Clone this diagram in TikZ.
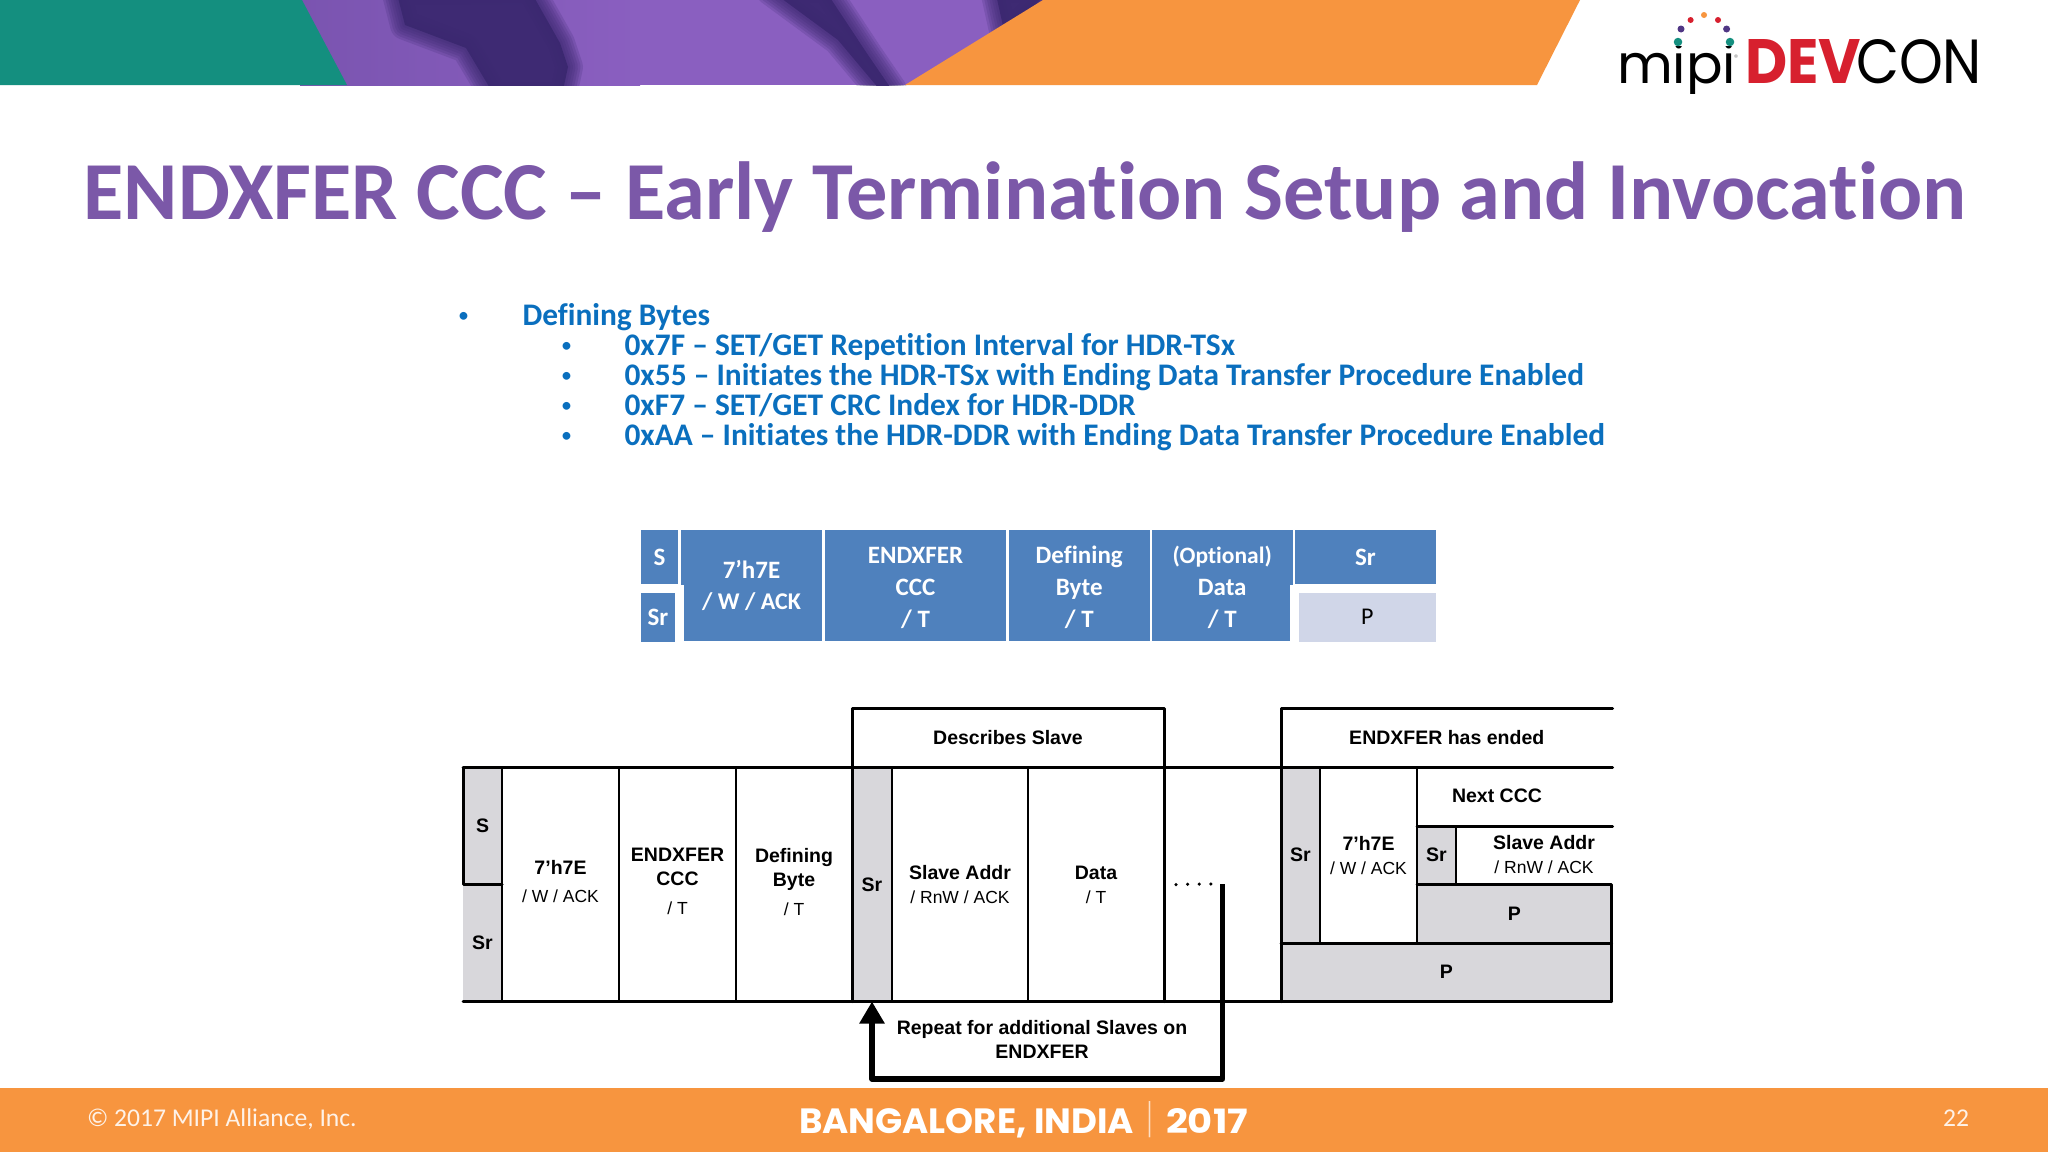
\documentclass[tikz,border=0pt]{standalone}
\usepackage{fontspec}
\usepackage{graphicx}
\usetikzlibrary{arrows.meta}
\setmainfont{Carlito}[Ligatures=NoCommon]
\newfontfamily\arialf{Liberation Sans}
\newfontfamily\popf{Poppins}
\definecolor{teal1}{HTML}{148F7F}
\definecolor{orange1}{HTML}{F7953F}
\definecolor{purple1}{HTML}{8A5FC0}
\definecolor{purple2}{HTML}{3B2870}
\definecolor{titlec}{HTML}{7B58A8}
\definecolor{bulletc}{HTML}{0A6FBE}
\definecolor{frameblue}{HTML}{4F81BD}
\definecolor{framepale}{HTML}{D0D6E8}
\definecolor{cellgray}{HTML}{D8D7DB}
\definecolor{logored}{HTML}{D7202E}
\newcommand{\subtxt}{\fontsize{17.5}{22}\selectfont\mdseries}
\newcommand{\lifted}[1]{\rule[-#1pt]{0pt}{1pt}}
\newcommand{\sunk}{\rule{0pt}{22pt}}
\newcommand{\cell}[7]{\node[cellbase,#2,minimum width={(#5-#3)*1pt},minimum height={(#6-#4)*1pt}] (#1) at ({(#3+#5)/2},{(#4+#6)/2}) {#7};}
\newcommand{\softdark}[1]{%
  \foreach \w in {30,25,20,15,10,5}{\draw[purple2,opacity=.2,line width=\w pt,line join=round] #1;}%
  \fill[purple2,opacity=.95] #1;}
\tikzset{
  cellbase/.style={inner sep=0pt,outer sep=0pt,align=center,text=black,
    font={\arialf\bfseries\fontsize{19.5}{24}\selectfont}},
  graycell/.style={fill=cellgray},
  topcell/.style={fill=frameblue,text=white,font={\fontsize{25}{32}\selectfont\bfseries}},
  palecell/.style={fill=framepale,text=black,font={\fontsize{24}{31}\selectfont}},
  heavy/.style={line width=3pt,line cap=round,line join=round,black},
  thinline/.style={line width=1.8pt,black},
  looparrow/.style={line width=5.5pt,line join=round,black,-{Triangle[length=22pt,width=24pt]}},
  dotsline/.style={line width=3.5pt,line cap=round,dash pattern=on 0pt off 11.6pt,black},
  bulletmain/.style={anchor=base west,inner sep=0pt,outer sep=0pt,text=bulletc,font={\fontsize{31.4}{30}\selectfont\bfseries}},
  bulletdot/.style={anchor=base west,inner sep=0pt,outer sep=0pt,text=bulletc,font={\fontsize{22}{24}\selectfont}},
  dotmark/.style={circle,inner sep=0pt,outer sep=0pt,minimum size=#1},
  foot/.style={inner sep=0pt,outer sep=0pt,anchor=base west,text=white!88!orange1,font={\fontsize{25.6}{28}\selectfont}},
  placename/.style={inner sep=0pt,outer sep=0pt,anchor=base west,text=white},
}
\begin{document}
\begin{tikzpicture}[x=1pt,y=-1pt]
\useasboundingbox (0,0) rectangle (2048,1152);
\fill[white] (0,0) rectangle (2048,1152);
% header band
\begin{scope}
\clip (300,0) rectangle (1050,85);
\shade[left color=purple1!80!purple2,right color=purple1] (300,0) rectangle (640,85);
\fill[purple1] (640,0) rectangle (1050,85);
\softdark{(396,-10) -- (530,-10) -- (560,43) -- (568,67) -- (562,95) -- (494,95) -- (466,48) -- (405,25) -- cycle}
\softdark{(770,-10) -- (825,-10) -- (868,55) -- (892,90) -- (880,90) -- (838,40) -- cycle}
\softdark{(995,-10) -- (1050,-10) -- (1005,35) -- cycle}
\end{scope}
\fill[teal1] (0,0) -- (302,0) -- (347,85) -- (0,85) -- cycle;
\fill[orange1] (1043,0) -- (1580,0) -- (1537,85) -- (905,85) -- cycle;
% logo
\begin{scope}
\clip (1600,46.5) rectangle (1745,93);
\node[inner sep=0pt,outer sep=0pt,anchor=base west] (logomipi) at (1617,83) {\resizebox{119pt}{!}{\popf mipi}};
\end{scope}
\node[inner sep=0pt,outer sep=0pt,anchor=base west] (logoreg) at (1734,62) {\textcolor{gray}{\fontsize{11}{12}\selectfont ®}};
\node[inner sep=0pt,outer sep=0pt,anchor=base west] (logodev) at (1745,83) {\resizebox{116pt}{44pt}{\popf\bfseries\color{logored}DEV}};
\node[inner sep=0pt,outer sep=0pt,anchor=base west] (logocon) at (1856,83) {\resizebox{126pt}{44pt}{\popf CON}};
\foreach \n/\x/\y/\c/\s in {a/1678/42/teal1/8.5,b/1681/29/purple2!75!purple1/7,c/1690.6/20/logored/6,d/1704/15/orange1/6,e/1718/20/logored/6,f/1726.6/29/purple2!75!purple1/7,g/1730/42/teal1/8.5}
  \node[dotmark=\s pt,fill=\c] (dot\n) at (\x,\y) {};
% title
\node[inner sep=0pt,outer sep=0pt,anchor=base,text=titlec,font={\fontsize{82.4}{84}\selectfont\bfseries}] (title) at (1025,219) {ENDXFER CCC – Early Termination Setup and Invocation};
% bullets
\node[bulletmain] (b0) at (522.5,325) {Defining Bytes};
\node[bulletmain] (b1) at (624.5,355) {0x7F – SET/GET Repetition Interval for HDR-TSx};
\node[bulletmain] (b2) at (624.5,385) {0x55 – Initiates the HDR-TSx with Ending Data Transfer Procedure Enabled};
\node[bulletmain] (b3) at (624.5,415) {0xF7 – SET/GET CRC Index for HDR-DDR};
\node[bulletmain] (b4) at (624.5,445) {0xAA – Initiates the HDR-DDR with Ending Data Transfer Procedure Enabled};
\foreach \n/\x/\y in {p0/458/322,p1/561/352,p2/561/382,p3/561/412,p4/561/442}
  \node[bulletdot] (\n) at (\x,\y) {•};
% frame format
\cell{fS}{topcell}{641}{530}{678}{584}{\raisebox{-1pt}{S}}
\cell{fSr}{topcell}{641}{593}{675}{642}{Sr}
\cell{fAddr}{topcell}{681}{530}{822}{641}{\raisebox{-1pt}{7’h7E}\\[-1pt]\raisebox{-1pt}{\fontsize{24}{31}\selectfont / W / ACK}}
\cell{fCcc}{topcell}{825}{530}{1006}{641}{\sunk ENDXFER\\CCC\\/ T}
\cell{fDef}{topcell}{1009}{530}{1149.5}{641}{\sunk Defining\\Byte\\/ T}
\cell{fData}{topcell}{1152}{530}{1292.5}{641}{\fontsize{23.5}{32}\selectfont\sunk (Optional)\\Data\\/ T}
\cell{fSrB}{topcell}{1295}{530}{1436}{584}{\raisebox{-1pt}{Sr}}
\cell{fP}{palecell}{1298.5}{593}{1436}{642}{\raisebox{1pt}{P}}
\fill[white] (fAddr.south west) rectangle ++(3,-56);
\fill[white] (fData.south east) rectangle ++(-3,-56);
% flow: gray and white cells
\cell{cS}{graycell}{463}{767.5}{502}{884}{S}
\cell{cSr}{graycell}{463}{884}{502}{1001.5}{Sr}
\cell{cAddr}{}{502}{767.5}{619}{1001.5}{7’h7E\\[4pt]{\subtxt / W / ACK\lifted{6}}}
\cell{cCcc}{}{619}{767.5}{736}{1001.5}{ENDXFER\\CCC\\[5pt]{\subtxt / T\lifted{6}}}
\cell{cDef}{}{736}{767.5}{852}{1001.5}{Defining\\Byte\\[5pt]{\subtxt / T\lifted{6}}}
\cell{cSrB}{graycell}{852}{767.5}{892}{1001.5}{Sr}
\cell{cSlave}{}{892}{767.5}{1028}{1001.5}{Slave Addr\\{\subtxt / RnW / ACK}}
\cell{cData}{}{1028}{767.5}{1164}{1001.5}{Data\\{\subtxt / T}}
\cell{cDesc}{}{852}{708}{1164}{767.5}{Describes Slave}
\cell{cEnded}{}{1281}{708}{1612.5}{767.5}{ENDXFER has ended}
\cell{cSrC}{graycell}{1281}{767.5}{1320}{943}{Sr}
\cell{cAddrB}{}{1320}{767.5}{1417}{943}{7’h7E\\{\subtxt / W / ACK}}
\cell{cNext}{}{1417}{766}{1577}{826}{Next CCC}
\cell{cSrD}{graycell}{1417}{826}{1456}{884}{Sr}
\cell{cSlaveB}{}{1456}{826}{1632}{884}{Slave Addr\\{\subtxt / RnW / ACK}}
\cell{cPa}{graycell}{1417}{884}{1611.5}{943}{P}
\cell{cPb}{graycell}{1281}{943}{1611.5}{1001.5}{P}
\coordinate (nextend) at (1612.5,826);
% thin cell rules
\foreach \a in {cS,cSr,cAddr,cCcc,cSrB,cSlave,cSrC,cAddrB,cSrD}
  \draw[thinline] (\a.north east) -- (\a.south east);
% heavy rules
\draw[heavy] (cS.north west) -- (cEnded.south east);
\draw[heavy] (cSr.south west) -- (cPb.south east);
\draw[heavy] (cSr.north east) -- (cS.south west) -- (cS.north west);
\draw[heavy] (cDesc.south west) -- (cDesc.north west) -- (cDesc.north east) -- (cData.south east);
\draw[heavy] (cDesc.south west) -- (cSrB.south west);
\draw[heavy] (cPb.south west) -- (cEnded.north west) -- (cEnded.north east);
\draw[heavy] (cNext.south west) -- (nextend);
\draw[heavy] (cPa.north west) -- (cPa.north east) -- (cPb.south east);
\draw[heavy] (cPb.north west) -- (cPb.north east);
% loop
\coordinate (loopstart) at (1222.5,884);
\coordinate (loopdotsend) at (1214,884);
\coordinate (loopright) at (1222.5,1079);
\coordinate (loopleft) at (872,1079);
\draw[dotsline] (cData.east) ++(12,0) -- (loopdotsend);
\node[cellbase,anchor=center] (repeat) at (1042,1039.5) {Repeat for additional Slaves on\\ENDXFER};
\draw[looparrow] (loopstart) -- (loopright) -- (loopleft) -- (cSrB.south);
% footer
\fill[orange1] (0,1088) rectangle (2048,1152);
\node[foot] (copy) at (87,1126) {© 2017 MIPI Alliance, Inc.};
\node[placename] (place) at (799,1133) {\resizebox{335pt}{25pt}{\popf\bfseries BANGALORE, INDIA}};
\node[placename,text=white!70!orange1] (bar) at (1147,1133) {\resizebox{5pt}{32pt}{\popf |}};
\node[placename] (year) at (1166,1133) {\resizebox{82pt}{25pt}{\popf\bfseries 2017}};
\node[foot] (page) at (1943,1126) {22};
\end{tikzpicture}
\end{document}
